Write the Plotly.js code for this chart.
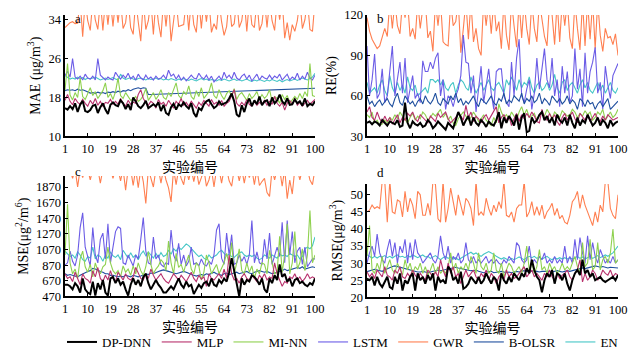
<!DOCTYPE html>
<html><head><meta charset="utf-8">
<script src="https://cdn.plot.ly/plotly-3.0.1.min.js"></script>
<style>html,body{margin:0;padding:0;background:#fff}#chart{width:641px;height:357px}</style>
</head><body><div id="chart"></div>
<script>
const seriesNames = ["DP-DNN","MLP","MI-NN","LSTM","GWR","B-OLSR","EN"];
const experimentIds = Array.from({length:100},(_,i)=>i+1);
const xTickVals = [1,10,19,28,37,46,55,64,73,82,91,100];

// ---- Panel a: MAE ----
const maeDPDNN = [15.8,15.5,16.2,15.6,16.8,15,16.5,17.3,15.2,15,15.4,16.3,16.5,14.8,16,16.8,15.5,14.6,16.5,17,16.4,16.2,17.4,16.8,15.6,16.6,15.4,18,17.2,16.2,15.8,16.4,17.3,15.8,16.2,16.6,16.2,17,15.2,16.5,14.8,14.4,16,16.7,15.5,16.6,16.2,17,16.2,15.7,16.8,14.8,14,15.8,15.4,16.6,17.2,17.5,16.6,15.8,16.2,17.2,16.5,16.8,17,17.8,18.8,17.2,14.5,14,16.4,15,16.8,17.8,16.2,17.4,16.6,18.2,16.4,17.2,17.4,16.2,18,16.8,17.4,18.6,17.2,16.6,17.8,16.5,16.6,17.6,16.8,17.2,16.3,17.8,16.2,16.7,16.4,17.2];
const maeMLP = [17.4,18.6,17.2,16.5,17.8,17,16.6,17.6,16.8,16.2,17.4,16.6,17.8,16.4,17.2,16.2,17,16.8,17.6,16.6,17.2,16.6,17.8,16.8,16.2,17.4,16.6,17,16.8,18.6,19.6,17.8,17,16.4,17.2,16.8,15.8,17.6,16.6,17,16.2,17.4,16.6,15.8,17.2,16.6,17.8,16.4,17,16.2,17.2,16.6,15.8,17,16.4,17.4,16.8,16.2,17.6,16.6,17,16.4,17.4,16.2,16.8,17.2,18.4,19.6,16.8,16.2,17,16.4,17.6,16.6,16.2,17.2,16.4,17,16.6,17.4,16.4,17.2,16.6,18.2,16.8,16.2,17,15.4,16.8,17.4,16.6,17.8,16.4,17,16.2,16.8,17.4,16.6,17.2,17.6];
const maeMINN = [19.5,25,18.5,17.5,19,18,22,18.2,17.6,18.8,20,18.4,19.2,17.8,18.6,19.4,21,18,18.8,17.6,19.2,22,18.4,17.8,19,18.2,17.4,17.6,18.2,17.2,17.6,18.4,19.8,17.4,18.2,19,17.6,18.4,19.6,18,17.6,19,18.2,19.6,21,18.4,17.8,19.2,18.6,20.4,18.2,17.6,19.4,18.2,20,17.8,18.6,19.2,21,18.4,17.8,19.6,18.4,17.6,18.8,19.4,18.2,19.8,17.6,18.6,19,18.2,17.4,18.8,17.8,18.4,19.2,17.6,18.6,17.8,18.4,19.6,17.2,18.2,17.8,16.8,18.6,17.6,18.4,16.8,17.4,18.2,17.6,18.8,17.8,19.2,18.2,25,18.4,18.2];
const maeLSTM = [22.5,23.4,22.2,26,22.2,21.8,22.4,21.6,22.8,22,21.8,22.4,21.6,26,22.6,22,21.6,22.2,21.8,21.6,23.2,22.4,21.8,22.6,22,23,21.8,22.4,21.6,22.8,22,21.6,22.6,21.8,22.2,21.6,22.4,21.8,22,22.6,21.8,23.6,22.4,22.8,21.8,22.6,21.6,22.2,21.4,22,22.6,22,21.8,23,22.2,21.8,22.6,21.6,22.4,21.2,21.8,22.4,21.6,23.2,22,22.6,21.8,23.2,22,21.6,22.4,22.8,21.8,22.6,21.4,22.2,22.8,21.6,22.4,22,21.8,22.6,21.8,22.4,22,22.8,21.6,22.2,22.8,21.6,22.2,21.8,23,21.6,22.4,21.8,23.2,22,21.6,22.6];
const maeGWR = [32.4,33,33.4,33.6,33.2,33.3,38,30.5,38,33.8,31.8,38,34,32,38,31.8,38,33,38,32.6,38,33.4,38,32.2,33.4,38,32.4,31,38,33.6,29.6,38,32,33.8,38,31,38,33.4,30.4,38,32.6,38,29.6,33.8,38,32.6,32.8,33,38,31.8,38,33,31.4,38,32.2,38,33.6,38,31.4,33.2,32,38,33.6,30.8,32.6,38,32.6,33.2,38,32.4,33.8,38,31.6,38,33,32.4,38,31.8,33.2,38,32.4,38,33.8,31.8,38,34,38,30.2,33.4,29.8,33,31.6,33.8,38,32.2,34,38,32,31.6,38];
const maeBOLSR = [19.4,19.6,19.5,19.6,19.4,19.7,19.5,19.6,19.4,19.2,18.9,19,18.8,19.1,18.9,19,18.8,19.1,19,19.2,19,19.3,19.1,19.4,19.3,19.6,19.4,19.7,19.9,20,19.8,20,19.9,18.6,18.6,18.62,18.64,18.66,18.68,18.7,18.72,18.74,18.76,18.78,18.8,18.82,18.84,18.86,18.88,18.9,18.92,18.94,18.96,18.98,19,19.02,19.04,19.06,19.08,19.1,19.12,19.14,19.16,19.18,19.2,19.22,19.24,19.26,19.28,19.3,19.32,19.34,19.36,19.38,19.4,19.42,19.44,19.46,19.48,19.5,19.52,19.54,19.56,19.58,19.6,19.62,19.64,19.66,19.68,19.7,19.72,19.74,19.76,19.78,19.8,19.82,19.84,19.86,19.88,19.9];
const maeEN = [22.5,22.2,21.8,22,21.8,22.2,21.9,22.1,21.7,22,21.8,22,22.2,21.9,21.6,21.8,22,21.7,21.9,22.1,21.8,21.6,22.8,22,21.7,21.9,22.1,21.8,21.6,21.9,22,21.8,21.6,21.9,21.7,21.8,22,21.7,21.9,21.6,21.8,21.6,21.9,21.7,21.5,21.8,21.6,21.9,21.7,21.5,21.8,21.6,21.4,21.7,21.9,21.6,21.8,21.5,21.7,21.6,21.4,21.7,21.5,21.8,21.6,21.4,21.6,21.8,21.5,21.7,21.4,21.6,21.8,21.5,21.3,21.6,21.4,21.7,21.5,21.3,21.6,21.4,21.7,21.5,21.3,21.6,21.2,21.5,21.7,21.4,21.6,21.8,21.5,21.7,22,21.8,21.6,21.9,22.2,23];

// ---- Panel b: RE ----
const reDPDNN = [40,41,39,41,40,38,42,40,38,41,40,39,42,37,38,55,40,36,41,39,38,40,37,38,42,40,36,38,41,39,37,35,40,38,36,42,48,44,38,42,45,38,44,40,38,42,40,37,41,39,38,42,48,36,44,40,45,42,38,46,35,44,47,33,34,44,40,42,46,48,42,45,40,44,38,46,42,40,44,38,46,40,36,44,38,42,40,46,42,38,40,44,38,42,40,36,42,38,40,41];
const reMLP = [48,52,44,42,48,43,40,45,41,44,39,42,46,40,44,42,47,45,48,43,41,46,44,42,40,45,43,41,47,44,46,48,43,40,42,44,47,45,42,53,44,48,41,45,43,40,44,46,42,45,48,52,40,44,46,42,45,38,43,47,41,46,43,47,44,48,45,41,40,50,44,42,47,43,46,41,38,44,47,42,45,48,43,40,47,44,42,46,41,44,47,43,41,45,42,46,44,42,43,44];
const reMINN = [46,44,48,40,42,38,39,42,40,44,42,46,43,48,45,42,40,44,47,42,45,43,48,46,42,44,47,45,48,50,44,47,42,45,40,38,43,46,48,45,42,44,48,45,41,43,46,42,40,38,44,40,54,48,44,46,43,48,45,42,48,52,46,50,44,45,47,42,46,48,45,50,47,43,48,46,44,49,47,45,46,50,48,44,47,45,49,46,48,42,44,48,46,50,42,45,48,44,46,50];
const reLSTM = [97,60,72,91,58,62,80,55,60,78,97,60,72,85,62,88,55,65,75,58,62,55,86,78,78,85,80,88,92,60,72,50,60,58,52,60,65,75,105,85,84,62,75,48,65,82,55,68,80,62,50,78,80,80,60,55,52,85,60,88,102,60,55,65,72,50,62,88,65,80,95,72,66,88,60,72,52,82,62,78,55,60,95,65,80,52,92,62,78,85,96,62,70,50,82,68,58,75,80,84];
const reGWR = [118,108,102,98,95,97,103,110,104,130,110,130,112,106,130,118,130,104,110,102,130,110,125,130,103,108,93,130,112,130,100,98,97,130,112,115,130,92,110,130,102,130,100,110,95,90,130,112,130,106,130,108,115,95,130,105,94,130,112,96,130,103,130,110,98,130,110,100,130,115,104,97,130,120,98,130,100,130,112,130,103,95,130,110,94,130,97,130,102,130,95,130,105,93,110,103,104,98,106,90];
const reBOLSR = [60,54,56,52,55,57,53,56,58,54,52,58,62,55,53,60,57,54,56,52,56,58,54,60,56,54,57,62,55,53,58,56,54,60,57,62,55,58,53,56,54,57,60,55,52,58,56,54,57,60,55,53,58,56,62,54,57,55,60,58,56,62,54,58,56,60,55,57,62,54,58,56,53,60,57,55,58,54,56,60,54,57,55,50,58,56,52,57,54,55,50,54,56,52,55,58,50,52,54,56];
const reEN = [70,62,64,66,62,68,72,64,60,75,66,62,70,64,68,62,74,66,64,68,60,62,64,66,62,72,72,70,72,68,72,66,64,68,70,62,68,72,70,66,64,74,68,62,66,70,64,68,72,66,64,68,70,66,62,72,68,74,70,64,72,66,70,68,74,66,62,68,70,64,66,70,64,68,76,66,62,70,72,64,68,70,66,62,68,72,66,70,64,62,66,70,64,68,62,66,70,64,62,66];

// ---- Panel c: MSE ----
const mseDPDNN = [620,620,600,560,640,600,520,700,560,520,500,660,480,640,560,680,520,480,700,720,640,700,620,660,560,480,620,700,620,680,600,720,760,640,560,620,680,620,580,520,520,560,600,560,640,700,620,580,660,600,620,500,560,620,580,640,660,600,700,620,600,680,640,700,660,780,960,780,640,470,700,620,680,660,740,720,680,620,700,560,520,700,640,740,680,880,720,760,660,700,600,680,700,640,660,620,600,640,620,700];
const mseMLP = [760,700,720,660,780,700,620,760,700,680,640,800,720,840,700,660,740,680,800,700,660,780,720,680,760,700,680,720,840,760,700,680,760,700,820,740,680,720,760,700,660,640,700,760,720,680,740,700,660,720,780,700,660,740,690,720,600,760,700,680,720,760,700,820,700,1000,760,680,700,640,720,760,700,680,740,700,660,740,700,760,680,720,700,900,760,680,600,660,640,720,700,760,680,720,660,700,760,700,720,700];
const mseMINN = [1000,1650,900,760,820,700,950,1050,850,780,880,720,900,800,760,850,880,1100,900,800,760,800,720,860,780,820,740,860,760,900,800,740,850,1040,880,760,820,860,940,900,800,1180,900,760,1020,840,880,780,900,1000,820,760,900,860,680,780,1000,900,760,820,880,760,840,900,1020,880,1160,760,900,1080,800,760,900,780,860,700,820,760,900,880,760,1060,900,760,780,1240,780,1000,1400,760,900,1300,820,900,1080,800,1000,1570,900,1000];
const mseLSTM = [870,900,1050,920,860,1000,1350,1540,1100,980,860,1350,1000,900,1200,1280,950,1400,900,1100,1300,1360,1340,900,880,1000,920,860,1000,950,1200,1480,1050,900,880,1230,950,1000,880,850,900,880,1320,1000,920,1150,880,1000,860,920,1100,880,900,860,950,880,860,920,880,1000,1320,1400,960,880,1280,1000,1260,880,900,1000,920,980,880,1000,1440,900,1040,900,880,1200,950,1280,880,1000,1100,980,1420,900,1440,1000,1300,900,1050,1100,880,1100,850,900,950,950];
const mseGWR = [2100,2100,2100,1980,2100,1870,2100,1990,2100,2100,1960,2100,2100,2100,1920,2100,2100,2100,2100,1980,2100,2100,1950,2100,1830,2100,2100,1890,2100,1860,2100,1940,1660,2100,1980,1870,2100,2100,1920,2100,1960,1860,1680,2100,1900,2100,1980,1900,2100,1960,2100,1940,2100,1900,1990,2100,1880,1960,2100,1870,2100,2100,1920,2100,2100,1950,1880,2100,2100,1950,2100,1920,2100,1990,2100,1900,2100,1890,1940,1980,1800,1750,2100,1960,2100,2100,1880,2100,1720,1960,1780,2100,2100,1960,2100,2100,2100,1960,1900,2100];
const mseBOLSR = [760,740,750,740,730,720,740,760,780,790,800,830,820,800,790,780,760,760,740,740,730,720,730,720,740,730,720,740,730,720,730,750,760,750,770,760,780,790,800,810,800,790,780,770,760,770,780,790,780,760,750,740,730,740,750,740,760,750,770,780,760,750,740,760,770,750,760,770,780,760,770,780,790,770,760,780,790,800,790,780,790,780,760,770,780,790,800,820,800,810,820,830,840,830,850,820,830,850,850,840];
const mseEN = [1050,1020,980,1000,960,1040,1000,940,920,980,960,1100,950,1000,980,920,1000,960,1040,990,970,1000,940,1060,1000,960,1030,970,1000,940,1010,1050,990,1040,1000,960,1020,970,1030,980,1000,1060,1010,1080,1050,1100,1070,1110,1140,1120,1080,1040,1010,980,1000,960,940,1000,960,980,1000,1040,1060,1020,990,1010,980,970,1000,1030,1040,1000,980,1000,980,1000,960,940,960,1000,980,960,1000,980,960,1010,990,1000,980,1020,1000,980,1000,950,980,1080,1100,1080,1120,1230];

// ---- Panel d: RMSE ----
const rmseDPDNN = [25.5,25,26,23.5,26,24,23,24.5,26,23,22.5,26,24,27,22,25,24,26,27,22,27,25,26,24,26.5,25,27,22,26,24.5,25,24,29,28,25,26,24,27.5,22.5,23,24,26,25,24,26,24,25,27,25.5,24,26,25,22,27,25,24,26,24.5,27,26,25,27,26,28.5,27,31,28,26,25,21.5,25,27,26,28,24,27,26.5,25,27,24,22,25,27,28,26.5,31,27,28,26,27,25,25.5,26,25,24.5,25,25.5,26,25,26.5];
const rmseMLP = [27.5,26,27,25.5,28,27,26,29,26.5,26,25,28,27,29,26,25.5,27,26,28,26.5,25.5,27,26,25,28,27,26,27.5,26,31,28,26,30,27,29,26,27,24,26,28,26,27,28,26,25,27,26,28,25,27,26,24,26,27,25,28,26,27,25.5,26,27,28,29,26,27,28,26,27,26,25,27,26,28,26,25,27,25.5,26.5,27,28,26,25,27,28,31,24.5,27,25,26,28,27,25,26,28,27,26.5,28,26,27,26.5];
const rmseMINN = [32,41,28,27,30,28,32,27,29,31,28,27,30,28,26.5,31,28,30,27,29,28,30,27,29,26.5,28,30,27,29,27,28,27,29,33,28,30,27,29,28,30,28,32,30,27,33,29,28,30,27,28,33,28,27,30,26,28,30,29,27,28,29,27,30,35,28,30,27,29,34,28,29,27,30,28,29,27,28,30,28,29,28,30,32,29,27,36,29,30,37,28,29,36,28,31,32,30,33,40,30,31];
const rmseLSTM = [30,33,35,32,38.5,33,31,30,34,37,32,36,30,35,33,37,30,36,31,37,33,32,30,31,32,33,31,30,32,38,33,31,35,30,32,31,33,30,31,36,31,30,32,30,31,30,31,32,30,31,30,31,30,29.5,31,30,32,31,30,36,35,31,30,31,35,30,31,30,32,31,33,30,31,30,32,30,31,30,35,30,32,30,37,31,37.5,33,30,38,31,36,32,30,34,32,30,31,30,32,30,31];
const rmseGWR = [45,45.5,47,46,46.5,46,54,54,42,54,45,44.5,48.5,48,43.5,51,45,49,47,43,51,50,44,44,47.5,44,54,53,43,42,54,42,46,52,48,44,50,47,44,49,48,46,41,54,44,45,44,49,46,44,47,45,48,46,54,44,43.5,45,42,46,47,47,54,43.5,45,48,44,46.5,44,47,43,45,46,47.5,44,46,43,44,42,41.5,44,48,49,51,46,50,47,45,43,41,45,42,47,45,54,54,46,44,43,50];
const rmseBOLSR = [27.5,27.8,28,28.2,28,27.8,27.6,28,28.4,28.8,29,29.2,29,28.6,28.4,28.2,28,28,27.8,27.6,27.4,27.4,27.6,27.4,27.2,27.4,27.6,27.8,28,27.8,28,28.2,28.4,28.4,28.6,28.8,28.6,28.4,28.2,28,28,27.8,27.8,28,27.6,27.4,27.2,27.4,27.4,27.6,27.2,27.4,27.4,27.6,27.4,27.2,27.4,27.2,27.4,27.6,27.4,27.6,27.8,27.6,27.8,27.6,27.8,27.6,27.4,27.6,27.6,27.8,27.6,27.4,27.6,27.8,27.6,27.4,27.6,27.8,27.6,27.8,28,28.2,28.4,28.6,28.4,28.6,28.8,29,29.2,29,28.8,29,28.8,28.6,28.8,28.8,28.6,28.6];
const rmseEN = [32.5,32,31.5,32,31.5,32,31.8,32.2,31.6,32,31.5,32,32.4,31.8,32,31.6,32.2,31.8,32.4,32,31.6,32,32.4,31.8,32,31.4,31.8,32.2,31.6,31,31.6,32,31.4,31.8,31.2,31.6,31,31.4,31.8,32.4,32.8,33.2,32.6,33,32.4,32,32.6,33,33.4,33,32.4,32,31.6,31.2,31.6,31.2,30.8,31.4,31,31.4,31.8,31.4,31,31.6,32,31.6,32,31.4,31.8,31.2,31.6,32,31.4,31,31.6,31.2,31.6,31.2,31.6,31.2,31.6,31.2,31.6,32,31.4,31.8,31.2,31.6,32,31.4,31.8,32.2,31.6,32,32.4,32,32.6,33,34,35];

const colors = {"DP-DNN":"#000000","MLP":"#b8316c","MI-NN":"#8fd14f","LSTM":"#6b5ce6","GWR":"#ff7f50","B-OLSR":"#1f4f9e","EN":"#45c6c6"};
const drawOrder = ["GWR","EN","LSTM","B-OLSR","MI-NN","MLP","DP-DNN"];

const panels = [
  {xa:"x", ya:"y",  data:{"DP-DNN":maeDPDNN,"MLP":maeMLP,"MI-NN":maeMINN,"LSTM":maeLSTM,"GWR":maeGWR,"B-OLSR":maeBOLSR,"EN":maeEN}},
  {xa:"x2",ya:"y2", data:{"DP-DNN":reDPDNN,"MLP":reMLP,"MI-NN":reMINN,"LSTM":reLSTM,"GWR":reGWR,"B-OLSR":reBOLSR,"EN":reEN}},
  {xa:"x3",ya:"y3", data:{"DP-DNN":mseDPDNN,"MLP":mseMLP,"MI-NN":mseMINN,"LSTM":mseLSTM,"GWR":mseGWR,"B-OLSR":mseBOLSR,"EN":mseEN}},
  {xa:"x4",ya:"y4", data:{"DP-DNN":rmseDPDNN,"MLP":rmseMLP,"MI-NN":rmseMINN,"LSTM":rmseLSTM,"GWR":rmseGWR,"B-OLSR":rmseBOLSR,"EN":rmseEN}}
];

const traces = [];
panels.forEach((p,pi)=>{
  drawOrder.forEach(name=>{
    traces.push({
      type:"scatter", mode:"lines", x:experimentIds, y:p.data[name],
      xaxis:p.xa, yaxis:p.ya, name:name, legendgroup:name,
      showlegend: pi===0, legendrank: seriesNames.indexOf(name)+1,
      line:{color:colors[name], width: name==="DP-DNN"?2:1.1},
      hoverinfo:"skip"
    });
  });
});

const serif = "Liberation Serif, Times New Roman, Noto Sans CJK SC, serif";
const tickF = {family:serif, size:12.5, color:"#000"};
function xax(dom, anchor){
  return {domain:dom, anchor:anchor, range:[1,100], tickvals:xTickVals, showgrid:false, zeroline:false,
    showline:true, linecolor:"#000", linewidth:1.6, ticks:"inside", ticklen:3, tickcolor:"#000", tickwidth:1,
    tickfont:tickF, title:{text:"实验编号", font:{family:"Noto Sans CJK SC", size:14, color:"#000"}, standoff:0}};
}
function yax(dom, anchor, range, vals, title){
  return {domain:dom, anchor:anchor, range:range, tickvals:vals, showgrid:false, zeroline:false,
    showline:true, linecolor:"#000", linewidth:1.6, ticks:"inside", ticklen:3, tickcolor:"#000", tickwidth:1,
    tickfont:tickF, title:{text:title, font:{family:serif, size:14, color:"#000"}, standoff:4}};
}
const xa = [65/641, 315/641], xb = [367/641, 618/641];
const layout = {
  width:641, height:357, margin:{l:0,r:0,t:0,b:0}, paper_bgcolor:"#fff", plot_bgcolor:"#fff",
  showlegend:true,
  xaxis: xax(xa,"y"), yaxis: yax([0.616,0.958],"x",[10,35],[10,18,26,34],"MAE (μg/m<sup>3</sup>)"),
  xaxis2: xax(xb,"y2"), yaxis2: yax([0.616,0.958],"x2",[30,120],[30,60,90,120],"RE(%)"),
  xaxis3: xax(xa,"y3"), yaxis3: yax([0.165,0.504],"x3",[470,2010],[470,670,870,1070,1270,1470,1670,1870],"MSE(μg<sup>2</sup>/m<sup>6</sup>)"),
  xaxis4: xax(xb,"y4"), yaxis4: yax([0.1625,0.482],"x4",[20,53.2],[20,25,30,35,40,45,50],"RMSE(μg/m<sup>3</sup>)"),
  legend:{orientation:"h", x:62/641, xanchor:"left", y:1-344/357, yanchor:"middle", font:{family:serif, size:13, color:"#000"},
    itemwidth:30, tracegroupgap:0, bgcolor:"rgba(0,0,0,0)"},
  annotations:[
    {text:"a", x:73/641, y:1-9/357, xref:"paper", yref:"paper", showarrow:false, font:{family:serif,size:13,color:"#000"}},
    {text:"b", x:380/641, y:1-9/357, xref:"paper", yref:"paper", showarrow:false, font:{family:serif,size:13,color:"#000"}},
    {text:"c", x:73/641, y:1-172/357, xref:"paper", yref:"paper", showarrow:false, font:{family:serif,size:13,color:"#000"}},
    {text:"d", x:380/641, y:1-173/357, xref:"paper", yref:"paper", showarrow:false, font:{family:serif,size:13,color:"#000"}}
  ]
};
Plotly.newPlot("chart", traces, layout, {staticPlot:true, displayModeBar:false});
</script></body></html>
